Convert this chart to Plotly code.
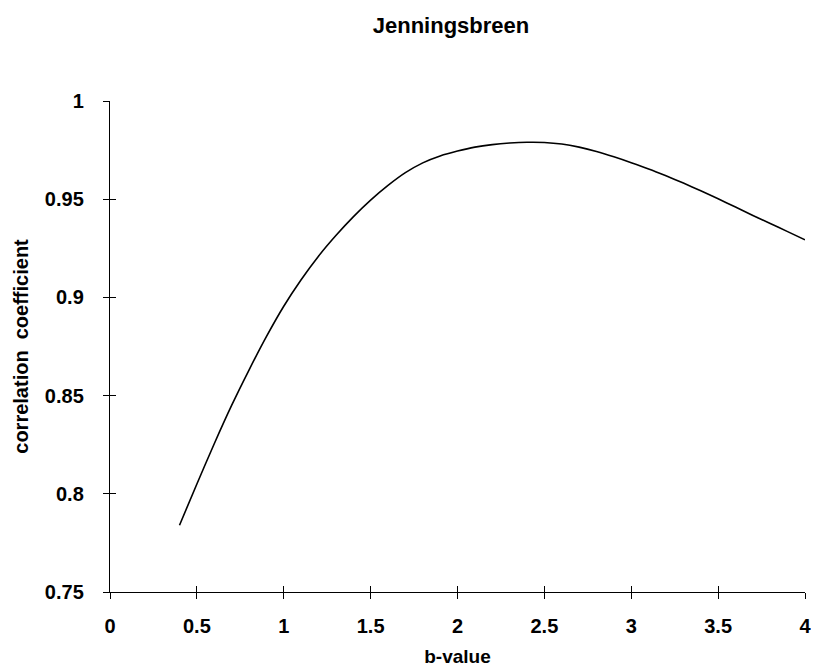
import plotly.graph_objects as go

# Data
b_value = [0.4, 0.5, 0.6, 0.7, 0.8, 0.9, 1.0, 1.1, 1.2, 1.3, 1.4, 1.5, 1.6, 1.7,
           1.8, 1.9, 2.0, 2.1, 2.2, 2.3, 2.4, 2.5, 2.6, 2.7, 2.8, 2.9, 3.0, 3.1,
           3.2, 3.3, 3.4, 3.5, 3.6, 3.7, 3.8, 3.9, 4.0]
correlation = [0.7840, 0.8050, 0.8255, 0.8450, 0.8630, 0.8800, 0.8955, 0.9090, 0.9210,
               0.9315, 0.9410, 0.9495, 0.9570, 0.9635, 0.9685, 0.9720, 0.9745, 0.9765,
               0.9778, 0.9786, 0.9790, 0.9789, 0.9781, 0.9765, 0.9743, 0.9716, 0.9686,
               0.9654, 0.9619, 0.9582, 0.9543, 0.9502, 0.9460, 0.9417, 0.9376, 0.9335,
               0.9293]

x_ticks = [0, 0.5, 1, 1.5, 2, 2.5, 3, 3.5, 4]
x_tick_text = ["0", "0.5", "1", "1.5", "2", "2.5", "3", "3.5", "4"]
y_ticks = [0.75, 0.8, 0.85, 0.9, 0.95, 1.0]
y_tick_text = ["0.75", "0.8", "0.85", "0.9", "0.95", "1"]

FONT = "Liberation Sans, Arial, Helvetica, sans-serif"
BOLD = dict(family=FONT, color="black", weight="bold")

# the page body adds an 8 px offset, so the figure is 8 px smaller each way
W, H = 811, 661

fig = go.Figure()
fig.add_trace(go.Scatter(x=b_value, y=correlation, mode="lines",
                         line=dict(color="black", width=1.6, shape="spline", smoothing=0.8),
                         showlegend=False, hoverinfo="skip"))
# invisible trace on the overlay axes so their inner tick marks are drawn
fig.add_trace(go.Scatter(x=[x_ticks[0]], y=[y_ticks[0]], xaxis="x2", yaxis="y2",
                         mode="markers", marker=dict(opacity=0, size=1),
                         showlegend=False, hoverinfo="skip"))

tick_style = dict(showgrid=False, zeroline=False, tickcolor="black", tickwidth=1.3, ticklen=6)

fig.update_layout(
    width=W, height=H,
    paper_bgcolor="white", plot_bgcolor="white",
    margin=dict(l=102, r=14, t=93, b=77),
    font=dict(family=FONT, color="black"),
    title=dict(text="Jenningsbreen", font=dict(size=22, **BOLD),
               x=443/W, xref="container", xanchor="center",
               y=1-17/H, yref="container", yanchor="middle"),
    xaxis=dict(range=[0, 4], tickvals=x_ticks, ticktext=x_tick_text, ticks="outside",
               showline=True, linecolor="black", linewidth=1.4, automargin=False,
               tickfont=dict(size=20, **BOLD), ticklabelstandoff=10,
               ticklabeloverflow="allow",
               title=dict(text="b-value", font=dict(size=19, **BOLD), standoff=13),
               **tick_style),
    yaxis=dict(range=[0.75, 1.0], tickvals=y_ticks, ticktext=y_tick_text, ticks="outside",
               showline=True, linecolor="black", linewidth=1.4, automargin=False,
               tickfont=dict(size=20, **BOLD), ticklabelstandoff=15,
               title=dict(text="correlation  coefficient", font=dict(size=20, **BOLD), standoff=10),
               **tick_style),
    xaxis2=dict(range=[0, 4], tickvals=x_ticks, ticks="inside", showticklabels=False,
                overlaying="x", matches="x", showline=False, **tick_style),
    yaxis2=dict(range=[0.75, 1.0], tickvals=y_ticks, ticks="inside", showticklabels=False,
                overlaying="y", matches="y", showline=False, **tick_style),
)

fig.write_html("out.html")
